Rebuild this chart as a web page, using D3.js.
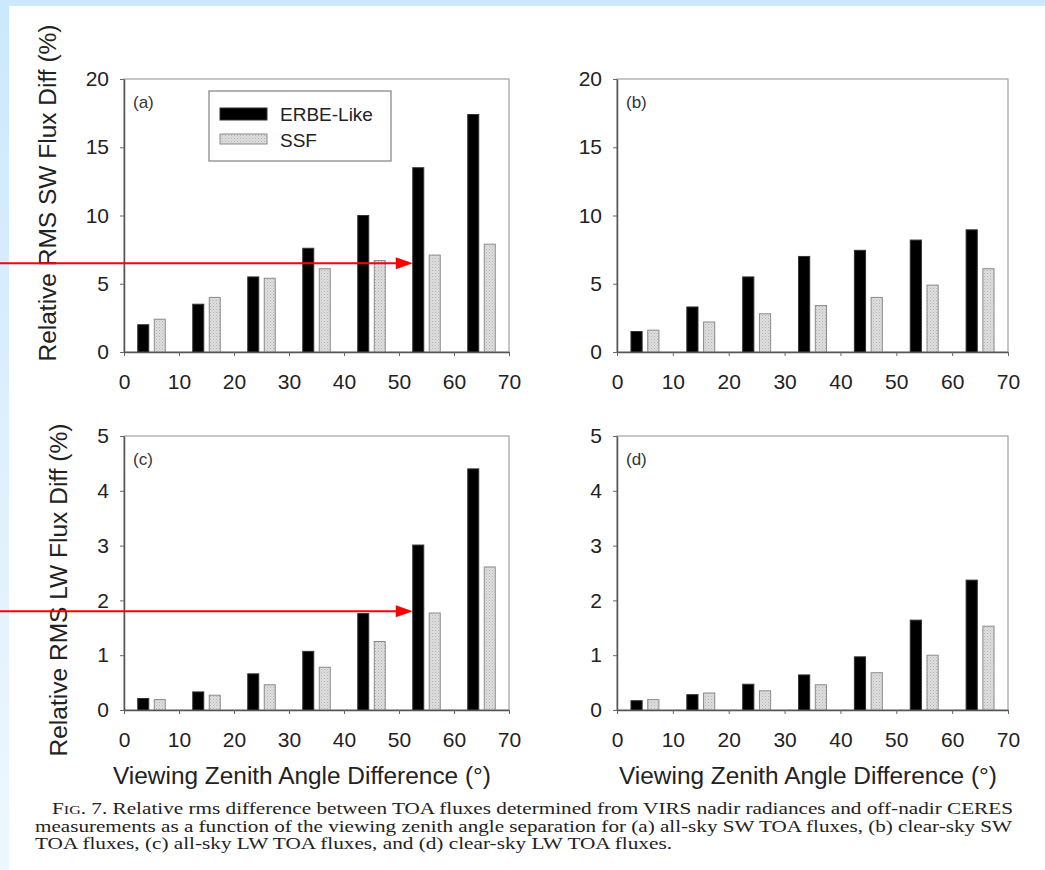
<!DOCTYPE html>
<meta charset="utf-8">
<style>
body { margin: 0; background: #fff; }
svg { display: block; }
.tick text { font-family: Arial, "Liberation Sans", sans-serif; fill: #222; }
.caption { font-family: "Liberation Serif", "Times New Roman", serif; fill: #222; }
</style>
<svg width="1045" height="870"></svg>
<script src="https://d3js.org/d3.v7.min.js"></script>
<script>

// bin starts (deg) of the viewing zenith angle difference
var angles = [0, 10, 20, 30, 40, 50, 60];
var xTicks = [0, 10, 20, 30, 40, 50, 60, 70];
var swTicks = [0, 5, 10, 15, 20];
var lwTicks = [0, 1, 2, 3, 4, 5];

// (a) all-sky SW, (b) clear-sky SW, (c) all-sky LW, (d) clear-sky LW
var erbeA = [2.0, 3.5, 5.5, 7.6, 10.0, 13.5, 17.4];
var ssfA  = [2.4, 4.0, 5.4, 6.1, 6.7, 7.1, 7.9];
var erbeB = [1.5, 3.3, 5.5, 7.0, 7.45, 8.2, 8.95];
var ssfB  = [1.6, 2.2, 2.8, 3.4, 4.0, 4.9, 6.1];
var erbeC = [0.21, 0.33, 0.66, 1.07, 1.76, 3.01, 4.40];
var ssfC  = [0.19, 0.27, 0.46, 0.78, 1.25, 1.77, 2.61];
var erbeD = [0.17, 0.28, 0.47, 0.64, 0.97, 1.64, 2.37];
var ssfD  = [0.19, 0.31, 0.35, 0.46, 0.68, 1.0, 1.53];

var seriesNames = ["ERBE-Like", "SSF"];

var captionLines = [
  "7. Relative rms difference between TOA fluxes determined from VIRS nadir radiances and off-nadir CERES",
  "measurements as a function of the viewing zenith angle separation for (a) all-sky SW TOA fluxes, (b) clear-sky SW",
  "TOA fluxes, (c) all-sky LW TOA fluxes, and (d) clear-sky LW TOA fluxes."
];

var svg = d3.select("svg");
var defs = svg.append("defs");
var font = "Arial, 'Liberation Sans', sans-serif";

// page frame: light blue strip on top and left
var grad = defs.append("linearGradient").attr("id", "edge")
    .attr("x1", 0).attr("y1", 0).attr("x2", 0).attr("y2", 1);
grad.append("stop").attr("offset", "0%").attr("stop-color", "#cbe8fc");
grad.append("stop").attr("offset", "100%").attr("stop-color", "#eef7fe");

svg.append("rect").attr("width", 1045).attr("height", 870).attr("fill", "#fff");
svg.append("rect").attr("x", 0).attr("y", 0).attr("width", 9).attr("height", 870).attr("fill", "url(#edge)");
svg.append("rect").attr("x", 0).attr("y", 0).attr("width", 1045).attr("height", 6).attr("fill", "#cbe8fc");

// dotted light gray fill for SSF bars
var pat = defs.append("pattern").attr("id", "dots")
    .attr("patternUnits", "userSpaceOnUse").attr("width", 3).attr("height", 3);
pat.append("rect").attr("width", 3).attr("height", 3).attr("fill", "#dedede");
pat.append("rect").attr("x", 0).attr("y", 0).attr("width", 1).attr("height", 1).attr("fill", "#b4b4b4");
pat.append("rect").attr("x", 1.5).attr("y", 1.5).attr("width", 1).attr("height", 1).attr("fill", "#c4c4c4");

var panels = [
  {id: "a", erbe: erbeA, ssf: ssfA, ticks: swTicks, x0: 124, x1: 509, y0: 352, y1: 79},
  {id: "b", erbe: erbeB, ssf: ssfB, ticks: swTicks, x0: 617, x1: 1008, y0: 352, y1: 79},
  {id: "c", erbe: erbeC, ssf: ssfC, ticks: lwTicks, x0: 124, x1: 509, y0: 710, y1: 436},
  {id: "d", erbe: erbeD, ssf: ssfD, ticks: lwTicks, x0: 617, x1: 1008, y0: 710, y1: 436}
];

panels.forEach(function(p) {
  var x = d3.scaleLinear().domain([0, 70]).range([p.x0, p.x1]);
  var y = d3.scaleLinear().domain([0, d3.max(p.ticks)]).range([p.y0, p.y1]);
  p.x = x; p.y = y;
  var g = svg.append("g");

  // frame (top / right light gray)
  g.append("rect")
      .attr("x", p.x0).attr("y", p.y1)
      .attr("width", p.x1 - p.x0).attr("height", p.y0 - p.y1)
      .attr("fill", "none").attr("stroke", "#a0a0a0").attr("stroke-width", 1.2);

  // ERBE-Like bars
  g.selectAll(".erbe").data(p.erbe).enter().append("rect")
      .attr("x", function(d, i) { return x(angles[i] + 2.5); })
      .attr("width", function(d, i) { return x(angles[i] + 4.5) - x(angles[i] + 2.5); })
      .attr("y", function(d) { return y(d); })
      .attr("height", function(d) { return y(0) - y(d); })
      .attr("fill", "#000").attr("stroke", "#333").attr("stroke-width", 1);

  // SSF bars
  g.selectAll(".ssf").data(p.ssf).enter().append("rect")
      .attr("x", function(d, i) { return x(angles[i] + 5.5); })
      .attr("width", function(d, i) { return x(angles[i] + 7.5) - x(angles[i] + 5.5); })
      .attr("y", function(d) { return y(d); })
      .attr("height", function(d) { return y(0) - y(d); })
      .attr("fill", "url(#dots)").attr("stroke", "#8a8a8a").attr("stroke-width", 1);

  var ax = g.append("g")
      .attr("transform", "translate(0," + p.y0 + ")")
      .call(d3.axisBottom(x).tickValues(xTicks).tickFormat(d3.format("d"))
        .tickSize(4).tickSizeOuter(0).tickPadding(18));
  var ay = g.append("g")
      .attr("transform", "translate(" + p.x0 + ",0)")
      .call(d3.axisLeft(y).tickValues(p.ticks).tickFormat(d3.format("d"))
        .tickSize(4).tickSizeOuter(0).tickPadding(11));
  [ax, ay].forEach(function(a) {
    a.select(".domain").attr("stroke", "#555").attr("stroke-width", 1.5);
    a.selectAll(".tick line").attr("stroke", "#666");
    a.selectAll(".tick text").attr("font-size", 21);
  });

  g.append("text")
      .attr("x", p.x0 + 9).attr("y", p.y1 + 29)
      .attr("font-family", font)
      .attr("font-size", 17).attr("fill", "#333")
      .text("(" + p.id + ")");
});

// axis titles
svg.append("text")
    .attr("transform", "translate(56,193) rotate(-90)")
    .attr("text-anchor", "middle").attr("font-family", font).attr("font-size", 23)
    .attr("fill", "#222").attr("textLength", 337).attr("lengthAdjust", "spacingAndGlyphs")
    .text("Relative RMS SW Flux Diff (%)");
svg.append("text")
    .attr("transform", "translate(67,590) rotate(-90)")
    .attr("text-anchor", "middle").attr("font-family", font).attr("font-size", 23)
    .attr("fill", "#222").attr("textLength", 333).attr("lengthAdjust", "spacingAndGlyphs")
    .text("Relative RMS LW Flux Diff (%)");
[302, 808].forEach(function(cx) {
  svg.append("text")
      .attr("x", cx).attr("y", 784)
      .attr("text-anchor", "middle").attr("font-family", font).attr("font-size", 23)
      .attr("fill", "#222").attr("textLength", 378).attr("lengthAdjust", "spacingAndGlyphs")
      .text("Viewing Zenith Angle Difference (\u00b0)");
});

// legend in panel (a)
var lg = svg.append("g");
lg.append("rect").attr("x", 209).attr("y", 91).attr("width", 182).attr("height", 70)
    .attr("fill", "#fff").attr("stroke", "#808080").attr("stroke-width", 1.2);
seriesNames.forEach(function(name, i) {
  var yy = 108 + i * 26;
  lg.append("rect").attr("x", 220).attr("y", yy).attr("width", 47).attr("height", i ? 10 : 12)
      .attr("fill", i ? "url(#dots)" : "#000").attr("stroke", i ? "#8a8a8a" : "#333");
  lg.append("text").attr("x", 280).attr("y", yy + 13)
      .attr("font-family", font).attr("font-size", 19).attr("fill", "#222")
      .text(name);
});

// red arrows
var arrowTargets = [{panel: 0, x: 52.5, y: 6.5}, {panel: 2, x: 52.5, y: 1.8}];
arrowTargets.forEach(function(t) {
  var p = panels[t.panel];
  var tx = p.x(t.x), ty = p.y(t.y);
  svg.append("line").attr("x1", 0).attr("x2", tx - 14).attr("y1", ty).attr("y2", ty)
      .attr("stroke", "#f00").attr("stroke-width", 2);
  svg.append("path")
      .attr("d", "M" + (tx - 17) + "," + (ty - 6) + "L" + tx + "," + ty + "L" + (tx - 17) + "," + (ty + 6) + "Z")
      .attr("fill", "#f00");
});

// caption (glyphs stretched to the wide book face of the original)
var cap = svg.append("g").attr("class", "caption");
var l1 = cap.append("text").attr("x", 52).attr("y", 814).attr("font-size", 16.5)
    .attr("textLength", 961).attr("lengthAdjust", "spacingAndGlyphs");
l1.append("tspan").text("F");
l1.append("tspan").attr("font-size", 12.5).text("IG");
l1.append("tspan").text(". " + captionLines[0]);
cap.append("text").attr("x", 35).attr("y", 832).attr("font-size", 16.5)
    .attr("textLength", 977).attr("lengthAdjust", "spacingAndGlyphs").text(captionLines[1]);
cap.append("text").attr("x", 35).attr("y", 849).attr("font-size", 16.5)
    .attr("textLength", 637).attr("lengthAdjust", "spacingAndGlyphs").text(captionLines[2]);

</script>
